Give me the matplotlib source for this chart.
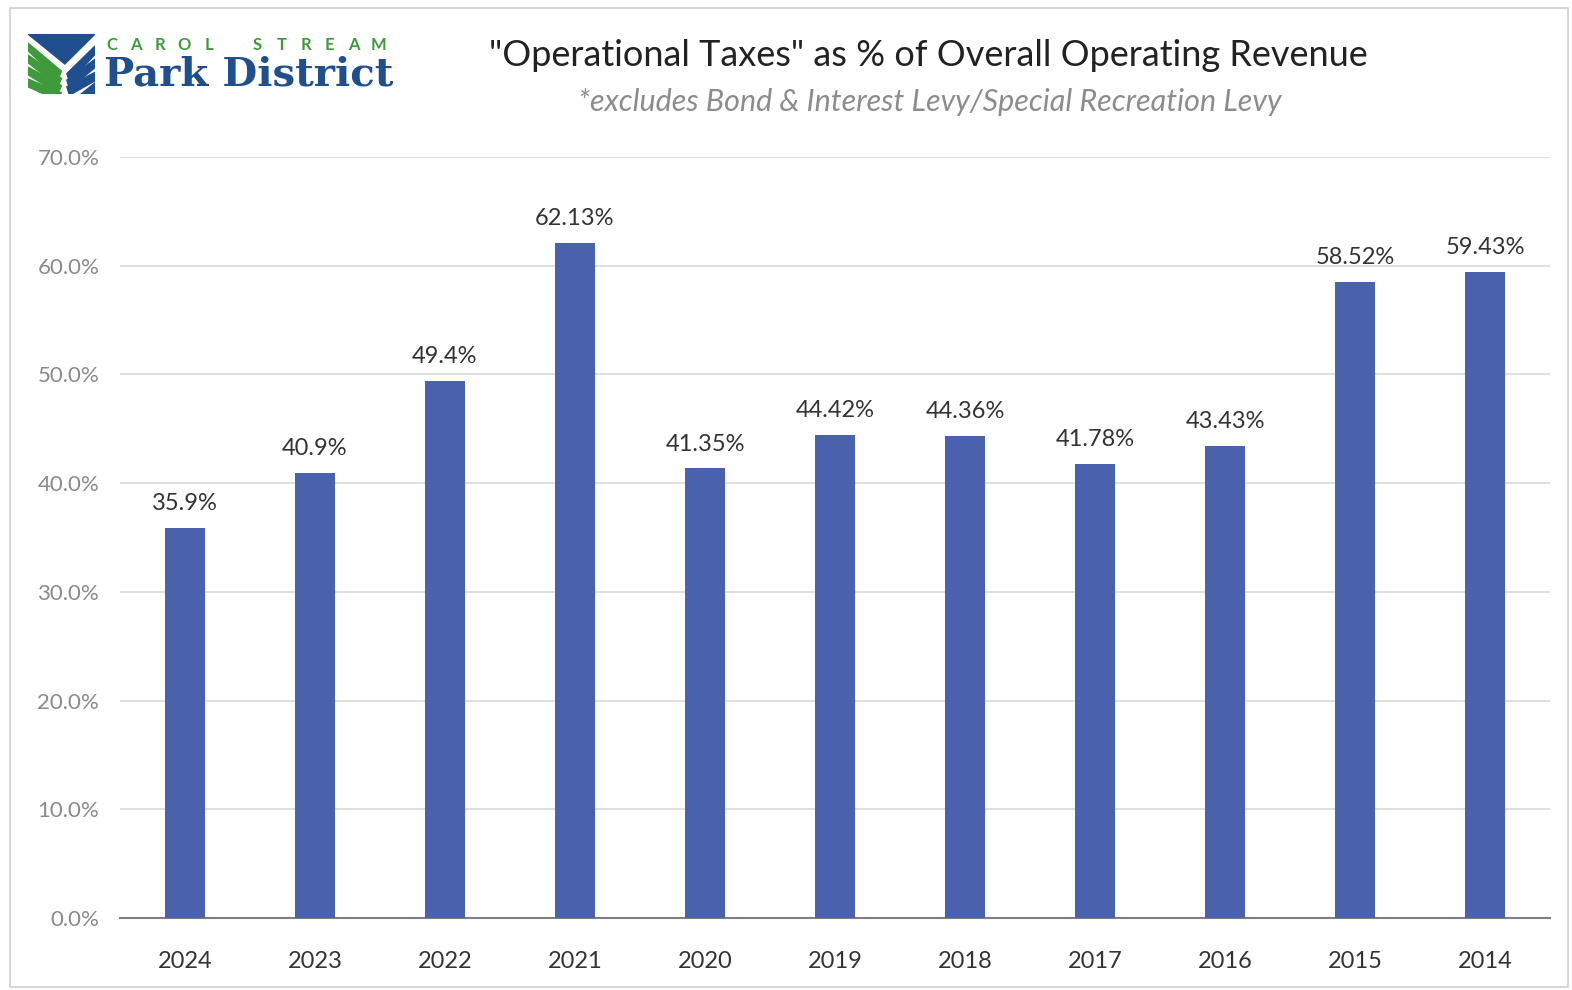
import matplotlib
matplotlib.use("Agg")
import matplotlib.pyplot as plt
import numpy as np
from matplotlib.patches import Polygon, Rectangle
from matplotlib.ticker import FuncFormatter

years = ["2024", "2023", "2022", "2021", "2020", "2019", "2018", "2017", "2016", "2015", "2014"]
pct = [35.9, 40.9, 49.4, 62.13, 41.35, 44.42, 44.36, 41.78, 43.43, 58.52, 59.43]
pct_labels = ["35.9%", "40.9%", "49.4%", "62.13%", "41.35%", "44.42%", "44.36%",
              "41.78%", "43.43%", "58.52%", "59.43%"]
y_ticks = [0, 10, 20, 30, 40, 50, 60, 70]

BAR = "#4a62ae"
GREEN = "#3f9a3c"
NAVY = "#1f4f8f"
FONT = "Lato"

fig = plt.figure(figsize=(15.72, 9.9), dpi=100)
fig.patch.set_facecolor("white")

# thin frame around the slide
fig.add_artist(Rectangle((10 / 1572, 0.003), 1 - 14 / 1572, 1 - 11 / 990,
                         transform=fig.transFigure, fill=False,
                         edgecolor="#d0d0d0", linewidth=1.2))

ax = fig.add_axes([120 / 1572, 1 - 918 / 990, 1430 / 1572, (918 - 157) / 990])
x = range(len(years))
bars = ax.bar(x, pct, width=0.31, color=BAR, zorder=3)
for b, lab in zip(bars, pct_labels):
    ax.annotate(lab, (b.get_x() + b.get_width() / 2, b.get_height()),
                xytext=(0, 10), textcoords="offset points", ha="center", va="bottom",
                fontsize=17, color="#333333", family=FONT)

ax.set_xlim(-0.5, len(years) - 0.5)
ax.set_ylim(0, 70)
ax.set_yticks(y_ticks)
ax.yaxis.set_major_formatter(FuncFormatter(lambda v, _: f"{v:.1f}%"))
ax.set_xticks(list(x))
ax.set_xticklabels(years)
ax.grid(axis="y", color="#d9d9d9", linewidth=1.2, zorder=0)
for side in ["top", "right", "left"]:
    ax.spines[side].set_visible(False)
ax.spines["bottom"].set_color("#7f7f7f")
ax.spines["bottom"].set_linewidth(1.5)
ax.tick_params(axis="both", length=0)
ax.tick_params(axis="y", pad=15, labelsize=16, labelcolor="#8a8a8a")
ax.tick_params(axis="x", pad=24, labelsize=17, labelcolor="#333333")
for t in ax.get_xticklabels() + ax.get_yticklabels():
    t.set_family(FONT)

# titles
fig.text(928 / 1572, 1 - 55 / 990, "\"Operational Taxes\" as % of Overall Operating Revenue",
         ha="center", va="center", fontsize=26, color="#222222", family=FONT)
fig.text(930 / 1572, 1 - 102 / 990, "*excludes Bond & Interest Levy/Special Recreation Levy",
         ha="center", va="center", fontsize=22, color="#8c8c8c", style="italic", family=FONT)

# logo emblem
lg = fig.add_axes([28 / 1572, 1 - 94 / 990, 67 / 1572, 60 / 990])
lg.set_xlim(0, 1)
lg.set_ylim(0, 1)
lg.axis("off")
lg.add_patch(Polygon([(0, 1), (1, 1), (0.55, 0.5)], color=NAVY))
for i in range(4):
    d = 0.2 * i
    lg.add_patch(Polygon([(0, 0.85 - d), (0, 0.72 - d), (0.45, 0.25 - d * 0.6),
                          (0.5, 0.38 - d * 0.6)], color=GREEN))
for i in range(3):
    d = 0.22 * i
    lg.add_patch(Polygon([(1, 0.8 - d), (1, 0.66 - d), (0.62, 0.2 - d * 0.5),
                          (0.58, 0.34 - d * 0.5)], color=NAVY))
lg.add_patch(Polygon([(1, 0.2), (1, 0), (0.78, 0)], color=NAVY))

# spaced-out wordmark letters
word = "CAROL STREAM"
for ch, xp in zip(word, np.linspace(112, 378, len(word))):
    fig.text(xp / 1572, 1 - 45 / 990, ch, ha="center", va="center",
             fontsize=12, color=GREEN, fontweight="bold", family=FONT)
fig.text(104 / 1572, 1 - 75 / 990, "Park District", ha="left", va="center",
         fontsize=29, color=NAVY, fontweight="bold", family="DejaVu Serif")

fig.savefig("out.png", dpi=100, facecolor="white")
